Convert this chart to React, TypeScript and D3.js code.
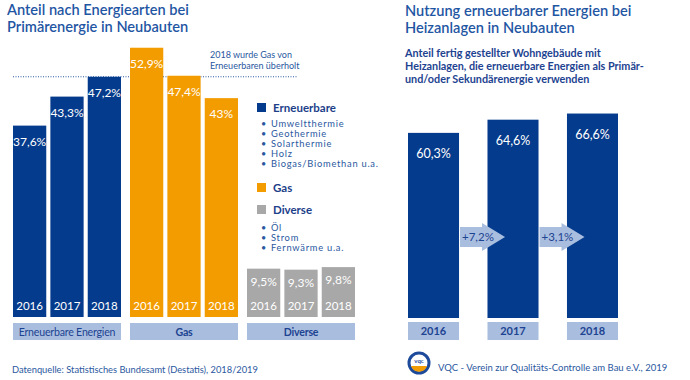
import React from "react";
import * as d3 from "d3";

const years = ["2016", "2017", "2018"];
const groups = ["Erneuerbare Energien", "Gas", "Diverse"];
const erneuerbare = [37.6, 43.3, 47.2];
const gas = [52.9, 47.4, 43.0];
const diverse = [9.5, 9.3, 9.8];
const heizYears = ["2016", "2017", "2018"];
const heizValues = [60.3, 64.6, 66.6];
const growthLabels = ["+7,2%", "+3,1%"];
const legendErneuerbare = ["Umweltthermie", "Geothermie", "Solarthermie", "Holz", "Biogas/Biomethan u.a."];
const legendDiverse = ["Öl", "Strom", "Fernwärme u.a."];

const BLUE = "#053b8c";
const ORANGE = "#f39c00";
const GRAY = "#a8a8a8";
const LIGHT = "#a9bedf";
const TITLE = "#1f56a3";
const TEXT = "#2a58a0";
const FONT = "Lato, 'Open Sans', sans-serif";

const fmt = (v: number) => (v % 1 === 0 ? String(v) : v.toFixed(1).replace(".", ",")) + "%";

export default function App() {
  const series = [erneuerbare, gas, diverse];
  const colors = [BLUE, ORANGE, GRAY];

  const xGroup = d3.scaleBand<string>().domain(groups).range([13, 355]).paddingInner(0.077);
  const xYear = d3.scaleBand<string>().domain(years).range([0, xGroup.bandwidth()]).paddingInner(0.11);
  const yL = d3.scaleLinear().domain([0, 60]).range([317, 317 - 60 * 5.09]);

  const xR = d3.scaleBand<string>().domain(heizYears).range([408, 618]).paddingInner(0.358);
  const yR = d3.scaleLinear().domain([0, 100]).range([318, 318 - 307]);

  const lineY = yL(erneuerbare[2]);

  return (
    <svg width={690} height={380} style={{ position: "absolute", left: 0, top: 0, fontFamily: FONT }}>
      <rect width={690} height={380} fill="#fff" />
      {/* Left title */}
      <text x={7} y={15} fontSize={14.6} fill={TITLE} fontWeight={600}>Anteil nach Energiearten bei</text>
      <text x={7} y={32} fontSize={14.6} fill={TITLE} fontWeight={600}>Primärenergie in Neubauten</text>

      {/* dotted reference line */}
      <line x1={13} x2={297} y1={lineY} y2={lineY} stroke={TEXT} strokeWidth={1} strokeDasharray="1 1.5" />
      <text x={210} y={58} fontSize={9} fill={TEXT}>2018 wurde Gas von</text>
      <text x={210} y={68.5} fontSize={9} fill={TEXT}>Erneuerbaren überholt</text>

      {groups.map((g, gi) => {
        const gx = xGroup(g)!;
        return (
          <g key={g}>
            {series[gi].map((v, i) => {
              const x = gx + xYear(years[i])!;
              const w = xYear.bandwidth();
              const top = yL(v);
              const small = gi === 2;
              return (
                <g key={i}>
                  <rect x={x} y={top} width={w} height={yL(0) - top} fill={colors[gi]} />
                  <text x={x + w / 2} y={top + (small ? 17 : 20)} textAnchor="middle" fontSize={12} fill="#fff">{fmt(v)}</text>
                  <text x={x + w / 2} y={310} textAnchor="middle" fontSize={11.5} fill="#fff">{years[i]}</text>
                </g>
              );
            })}
            <rect x={gx} y={323} width={xGroup.bandwidth()} height={17} fill={LIGHT} />
            <text x={gx + xGroup.bandwidth() / 2} y={335.5} textAnchor="middle" fontSize={10.6} fill="#1d4391" fontWeight={gi === 0 ? 400 : 700} letterSpacing={-0.2}>{g}</text>
          </g>
        );
      })}

      {/* Legend */}
      <rect x={257} y={103} width={9} height={9} fill={BLUE} />
      <text x={273} y={111.5} fontSize={11.5} fill="#1d3f8a" fontWeight={700}>Erneuerbare</text>
      {legendErneuerbare.map((t, i) => (
        <g key={t}>
          <text x={261} y={127 + i * 10} fontSize={9} fill={TEXT}>•</text>
          <text x={271} y={127 + i * 10} fontSize={9.3} fill={TEXT} letterSpacing={0.75}>{t}</text>
        </g>
      ))}
      <rect x={257} y={183} width={9} height={9} fill={ORANGE} />
      <text x={273} y={191.5} fontSize={11.5} fill="#1d3f8a" fontWeight={700}>Gas</text>
      <rect x={257} y={205} width={9} height={9} fill={GRAY} />
      <text x={273} y={213.5} fontSize={11.5} fill="#1d3f8a" fontWeight={700}>Diverse</text>
      {legendDiverse.map((t, i) => (
        <g key={t}>
          <text x={261} y={231 + i * 10} fontSize={9} fill={TEXT}>•</text>
          <text x={271} y={231 + i * 10} fontSize={9.3} fill={TEXT} letterSpacing={0.75}>{t}</text>
        </g>
      ))}

      <text x={12} y={373} fontSize={9.3} fill={TEXT}>Datenquelle: Statistisches Bundesamt (Destatis), 2018/2019</text>

      {/* Right panel */}
      <text x={405} y={16} fontSize={14.6} fill={TITLE} fontWeight={600}>Nutzung erneuerbarer Energien bei</text>
      <text x={405} y={33} fontSize={14.6} fill={TITLE} fontWeight={600}>Heizanlagen in Neubauten</text>
      <text x={405} y={57} fontSize={10.8} fill="#1d4391" fontWeight={700}>Anteil fertig gestellter Wohngebäude mit</text>
      <text x={405} y={70} fontSize={10.8} fill="#1d4391" fontWeight={700}>Heizanlagen, die erneuerbare Energien als Primär-</text>
      <text x={405} y={83} fontSize={10.8} fill="#1d4391" fontWeight={700}>und/oder Sekundärenergie verwenden</text>

      {heizValues.map((v, i) => {
        const x = xR(heizYears[i])!;
        const w = xR.bandwidth();
        const top = yR(v);
        return (
          <g key={i}>
            <rect x={x} y={top} width={w} height={yR(0) - top} fill={BLUE} />
            <text x={x + w / 2} y={top + 25} textAnchor="middle" fontSize={12.5} fill="#fff">{fmt(v)}</text>
            <rect x={x} y={322} width={w} height={18} fill={LIGHT} />
            <text x={x + w / 2} y={335} textAnchor="middle" fontSize={11} fill="#1d4391" fontWeight={700}>{heizYears[i]}</text>
          </g>
        );
      })}
      {growthLabels.map((t, i) => {
        const x0 = xR(heizYears[i])! + xR.bandwidth() + 1;
        const bodyEnd = x0 + 22;
        const tip = x0 + 45;
        const path = `M${x0},227 L${bodyEnd},227 L${bodyEnd},223 L${tip},237 L${bodyEnd},251 L${bodyEnd},247 L${x0},247 Z`;
        return (
          <g key={t}>
            <path d={path} fill={LIGHT} />
            <text x={x0 + 2} y={241} fontSize={11.5} fill="#1d4391">{t}</text>
          </g>
        );
      })}

      {/* Logo + footer */}
      <circle cx={419} cy={363} r={10} fill="#fff" stroke="#1d4a9a" strokeWidth={3} />
      <path d="M411,366 A8.5,8.5 0 0 0 427,366 Z" fill={ORANGE} />
      <text x={419} y={363} textAnchor="middle" fontSize={6} fontWeight={700} fill="#1d4a9a">vqc</text>
      <text x={438} y={371} fontSize={9.5} fill={TEXT}>VQC - Verein zur Qualitäts-Controlle am Bau e.V., 2019</text>
    </svg>
  );
}
